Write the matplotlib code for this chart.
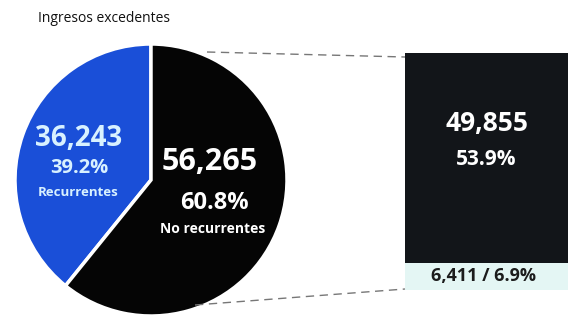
import matplotlib.pyplot as plt
from matplotlib.lines import Line2D

# values
pie_labels = ['Recurrentes', 'No recurrentes']
pie_values = [36243, 56265]
pie_pcts = ['39.2%', '60.8%']
bar_values = [6411, 49855]          # bottom -> top
bar_pcts = ['6.9%', '53.9%']
title = 'Ingresos excedentes'

W, H = 573, 318
blue = '#1a4fd8'
black = '#050505'
bar_black = '#121519'
cyan = '#e4f6f4'

fig = plt.figure(figsize=(W / 100, H / 100), dpi=100)
fig.patch.set_facecolor('white')

# pie axes (pixel box)
cx, cy, r = 151, 180, 136
ax = fig.add_axes([(cx - r) / W, (H - cy - r) / H, 2 * r / W, 2 * r / H])
ax.pie(pie_values, colors=[blue, black], startangle=90, counterclock=True,
       radius=1, wedgeprops=dict(edgecolor='white', linewidth=2.5))
ax.set_xlim(-1, 1)
ax.set_ylim(-1, 1)
ax.set_aspect('auto')
ax.axis('off')

fnt = ['Open Sans', 'DejaVu Sans']

def px(x, y):
    return (x / W, 1 - y / H)

fig.text(*px(79, 138), f'{pie_values[0]:,}', color='#d8f1ff', fontsize=20,
         fontweight='bold', ha='center', va='center', family=fnt)
fig.text(*px(79, 168), pie_pcts[0], color='#d8f1ff', fontsize=14.5,
         fontweight='bold', ha='center', va='center', family=fnt)
fig.text(*px(78, 193), pie_labels[0], color='#d8f1ff', fontsize=9.5,
         fontweight='bold', ha='center', va='center', family=fnt)

fig.text(*px(210, 162), f'{pie_values[1]:,}', color='white', fontsize=22,
         fontweight='bold', ha='center', va='center', family=fnt)
fig.text(*px(214, 203), pie_pcts[1], color='white', fontsize=17,
         fontweight='bold', ha='center', va='center', family=fnt)
fig.text(*px(213, 229), pie_labels[1], color='white', fontsize=10,
         fontweight='bold', ha='center', va='center', family=fnt)

fig.text(*px(38, 18), title, color='#111111', fontsize=10,
         ha='left', va='center', family=fnt)

# bar axes
bx0, bx1, by0, by1 = 405, 568, 53, 290
bax = fig.add_axes([bx0 / W, (H - by1) / H, (bx1 - bx0) / W, (by1 - by0) / H])
bax.bar([0], [bar_values[0]], width=1, color=cyan)
bax.bar([0], [bar_values[1]], width=1, bottom=bar_values[0], color=bar_black)
bax.set_xlim(-0.5, 0.5)
bax.set_ylim(0, sum(bar_values))
bax.axis('off')

bax.text(0, bar_values[0] + bar_values[1] * 0.665, f'{bar_values[1]:,}', color='white',
         fontsize=19, fontweight='bold', ha='center', va='center', family=fnt)
bax.text(0, bar_values[0] + bar_values[1] * 0.495, bar_pcts[1], color='white',
         fontsize=15, fontweight='bold', ha='center', va='center', family=fnt)
bax.text(-0.02, bar_values[0] * 0.5, f'{bar_values[0]:,} / {bar_pcts[0]}', color='#1c1c1c',
         fontsize=13, fontweight='bold', ha='center', va='center', family=fnt)

# connecting lines (figure pixel coords)
for (x0, y0, x1, y1) in [(207, 52, 405, 57), (195, 305, 405, 289)]:
    fig.add_artist(Line2D([x0 / W, x1 / W], [1 - y0 / H, 1 - y1 / H],
                          transform=fig.transFigure, color='#777777',
                          linewidth=1, linestyle=(0, (6, 4))))

fig.savefig('out.png', dpi=100)
